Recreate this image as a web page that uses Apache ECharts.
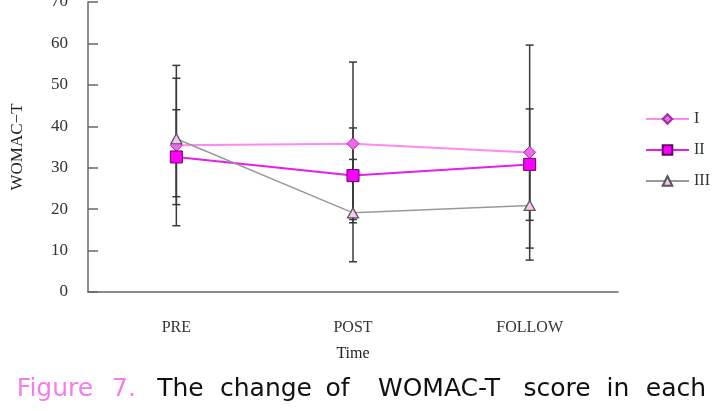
<!DOCTYPE html>
<html>
<head>
<meta charset="utf-8">
<script src="https://cdn.jsdelivr.net/npm/echarts@6/dist/echarts.min.js"></script>
<style>html,body{margin:0;padding:0;background:#fff;}#c{width:712px;height:411px;}</style>
</head>
<body>
<div id="c"></div>
<script>
const categories = ['PRE', 'POST', 'FOLLOW'];
const seriesNames = ['I', 'II', 'III'];
const yTicks = [0, 10, 20, 30, 40, 50, 60, 70];
const meanI = [35.4, 35.8, 33.7];
const meanII = [32.6, 28.1, 30.8];
const meanIII = [37.0, 19.1, 20.9];
const lowI = [16.0, 16.7, 7.7];
const highI = [54.7, 55.5, 59.6];
const lowII = [21.1, 17.5, 17.3];
const highII = [44.0, 39.6, 44.2];
const lowIII = [23.0, 7.3, 10.6];
const highIII = [51.6, 32.0, 31.2];
const captionWords = ['Figure', '7.', 'The', 'change', 'of', 'WOMAC-T', 'score', 'in', 'each'];

const chart = echarts.init(document.getElementById('c'), null, {renderer: 'canvas'});
const serif = '"Liberation Serif", "DejaVu Serif", serif';

function errData(low, high) {
  return categories.map((c, i) => [i, low[i], high[i]]);
}
function errSeries(name, low, high, color) {
  return {
    type: 'custom',
    name: name + '_err',
    z: 1,
    silent: true,
    encode: {x: 0, y: [1, 2]},
    data: errData(low, high),
    renderItem: function (params, api) {
      const p1 = api.coord([api.value(0), api.value(1)]);
      const p2 = api.coord([api.value(0), api.value(2)]);
      const w = 4;
      const st = {stroke: color, lineWidth: 1.5};
      return {
        type: 'group',
        children: [
          {type: 'line', shape: {x1: p1[0], y1: p1[1], x2: p2[0], y2: p2[1]}, style: st},
          {type: 'line', shape: {x1: p1[0] - w, y1: p1[1], x2: p1[0] + w, y2: p1[1]}, style: st},
          {type: 'line', shape: {x1: p2[0] - w, y1: p2[1], x2: p2[0] + w, y2: p2[1]}, style: st}
        ]
      };
    }
  };
}

const captionCenters = [55, 124, 180.5, 266, 337.5, 439, 557, 618, 676];

const option = {
  animation: false,
  backgroundColor: '#fff',
  grid: {left: 88, right: 94, top: 2, bottom: 119, containLabel: false, outerBoundsMode: 'none'},
  legend: {
    orient: 'vertical',
    left: 640,
    top: 106,
    itemWidth: 43,
    itemHeight: 12,
    itemGap: 15,
    data: seriesNames,
    textStyle: {fontFamily: serif, fontSize: 16, color: '#333'}
  },
  xAxis: {
    type: 'category',
    data: categories,
    boundaryGap: true,
    name: 'Time',
    nameLocation: 'middle',
    nameGap: 54,
    nameTextStyle: {fontFamily: serif, fontSize: 16, color: '#222'},
    axisLine: {lineStyle: {color: '#666', width: 1.5}},
    axisTick: {inside: true, length: 6, lineStyle: {color: '#666', width: 1.5}},
    axisLabel: {margin: 28, fontFamily: serif, fontSize: 16, color: '#333'},
    splitLine: {show: false}
  },
  yAxis: {
    type: 'value',
    min: 0,
    max: 70,
    interval: 10,
    name: 'WOMAC\u2212T',
    nameLocation: 'middle',
    nameRotate: 90,
    nameGap: 62,
    nameTextStyle: {fontFamily: serif, fontSize: 17, color: '#222'},
    axisLine: {show: true, lineStyle: {color: '#666', width: 1.5}},
    axisTick: {show: true, inside: true, length: 10, lineStyle: {color: '#666', width: 1.5}},
    axisLabel: {margin: 20, fontFamily: serif, fontSize: 17, color: '#333',
      formatter: v => (yTicks.indexOf(v) >= 0 ? String(v) : '')},
    splitLine: {show: false}
  },
  series: [
    errSeries('I', lowI, highI, '#3a3a3a'),
    errSeries('II', lowII, highII, '#3a3a3a'),
    errSeries('III', lowIII, highIII, '#3a3a3a'),
    {
      type: 'line', name: 'I', data: meanI, z: 5,
      symbol: 'diamond', symbolSize: 12,
      lineStyle: {color: '#ff88f4', width: 2},
      itemStyle: {color: '#ee66ee', borderColor: '#993399', borderWidth: 1}
    },
    {
      type: 'line', name: 'II', data: meanII, z: 5,
      symbol: 'rect', symbolSize: 12,
      lineStyle: {color: '#e61ee6', width: 2},
      itemStyle: {color: '#ff00ff', borderColor: '#660066', borderWidth: 1}
    },
    {
      type: 'line', name: 'III', data: meanIII, z: 5,
      symbol: 'triangle', symbolSize: [11, 10],
      lineStyle: {color: '#999999', width: 1.5},
      itemStyle: {color: '#f8c4f4', borderColor: '#555555', borderWidth: 1.2}
    }
  ],
  graphic: captionWords.map((w, i) => ({
    type: 'text',
    x: captionCenters[i],
    y: 389,
    style: {
      text: w,
      fontFamily: '"DejaVu Sans", sans-serif',
      fontSize: 25,
      fill: i < 2 ? '#f57de8' : '#111',
      align: 'center',
      verticalAlign: 'middle'
    }
  }))
};
chart.setOption(option);
</script>
</body>
</html>
